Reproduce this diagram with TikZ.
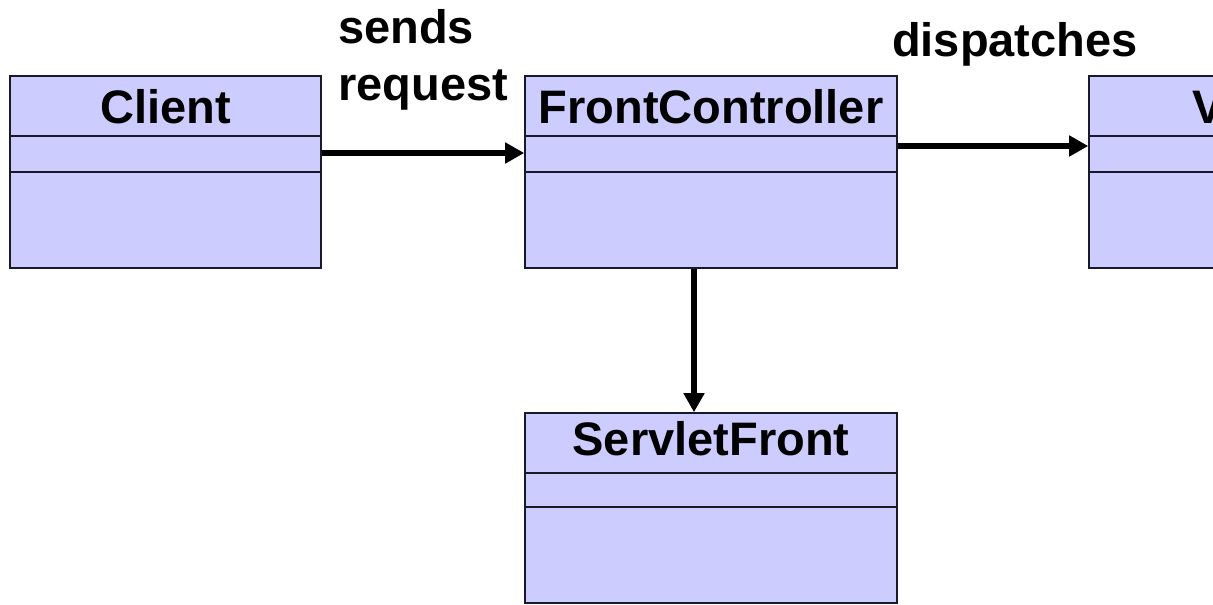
\documentclass[tikz,border=0pt]{standalone}
\usepackage{fontspec}
\setmainfont{Liberation Sans}
\usetikzlibrary{arrows.meta}
\definecolor{classfill}{RGB}{204,204,255}
\definecolor{classline}{RGB}{25,25,40}
\begin{document}
\begin{tikzpicture}[x=1pt,y=-1pt,
  classbox/.style={draw=classline, fill=classfill, line width=1.6pt, inner sep=0pt},
  titletext/.style={font=\bfseries\fontsize{47}{50}\selectfont, anchor=base, inner sep=0pt},
  labeltext/.style={font=\bfseries\fontsize{47}{50}\selectfont, anchor=base west, inner sep=0pt},
  divider/.style={draw=classline, line width=1.6pt},
  conn/.style={line width=6pt, -{Triangle[length=19pt,width=20pt]}}]
\useasboundingbox (0,0) rectangle (1213,605);
\fill[white] (0,0) rectangle (1213,605);
\begin{scope}
\clip (0,0) rectangle (1213,605);
% Client
\node[classbox, minimum width=311pt, minimum height=192pt] (client) at (165.5,172) {};
\draw[divider] (client.west |- 0,136) -- (client.east |- 0,136);
\draw[divider] (client.west |- 0,172) -- (client.east |- 0,172);
\node[titletext] (clientT) at (165.5,123) {Client};
% FrontController
\node[classbox, minimum width=372pt, minimum height=192pt] (fc) at (711,172) {};
\draw[divider] (fc.west |- 0,136) -- (fc.east |- 0,136);
\draw[divider] (fc.west |- 0,172) -- (fc.east |- 0,172);
\node[titletext] (fcT) at (711,123) {FrontController};
% V (cut off)
\node[classbox, minimum width=372pt, minimum height=192pt] (v) at (1275,172) {};
\draw[divider] (v.west |- 0,136) -- (v.east |- 0,136);
\draw[divider] (v.west |- 0,172) -- (v.east |- 0,172);
\node[labeltext] (vT) at (1192,123) {V};
% ServletFront
\node[classbox, minimum width=372pt, minimum height=190pt] (sf) at (711,508) {};
\draw[divider] (sf.west |- 0,473) -- (sf.east |- 0,473);
\draw[divider] (sf.west |- 0,507) -- (sf.east |- 0,507);
\node[titletext] (sfT) at (711,455) {ServletFront};
% labels
\node[labeltext] (sends) at (338,43) {sends};
\node[labeltext] (request) at (338,100) {request};
\node[labeltext] (disp) at (892,56) {dispatches};
% connectors
\draw[conn] (client.east |- 0,153) -- (fc.west |- 0,153);
\draw[conn] (fc.east |- 0,146) -- (v.west |- 0,146);
\draw[conn] (fc.south -| 694,0) -- (sf.north -| 694,0);
\end{scope}
\end{tikzpicture}
\end{document}
